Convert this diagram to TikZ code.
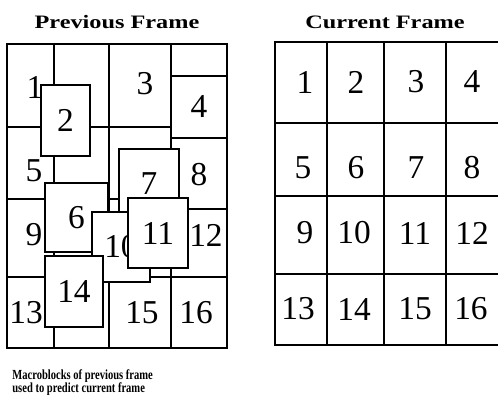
\documentclass[tikz,border=0pt]{standalone}
\usepackage{fontspec}
\setmainfont{Liberation Serif}
\usepackage{graphicx}

\begin{document}
\begin{tikzpicture}[x=0.02cm,y=-0.02cm,gline/.style={draw=black,line width=0.75pt},mb/.style={draw=black,fill=white,line width=1.2pt,inner sep=0pt,font=\fontsize{19pt}{22pt}\selectfont},num/.style={inner sep=0pt,font=\fontsize{19pt}{22pt}\selectfont},head/.style={inner sep=0pt,font=\fontsize{10.8pt}{12pt}\selectfont\bfseries},capt/.style={anchor=base west,inner sep=0pt,font=\fontsize{7.9pt}{7.4pt}\selectfont\bfseries}]
\useasboundingbox (0,0) rectangle (498,403);
% titles
\node[head] (prevtitle) at (117,22) {\scalebox{1.28}[1]{Previous Frame}};
\node[head] (curtitle) at (385,22) {\scalebox{1.28}[1]{Current Frame}};
% previous frame: grid
\draw[gline] (7,44) rectangle (227,348);
\draw[gline] (54,44) -- (54,348);
\draw[gline] (109,44) -- (109,348);
\draw[gline] (171,44) -- (171,348);
\draw[gline] (7,127) -- (227,127);
\draw[gline] (7,199) -- (179,199);
\draw[gline] (179,209) -- (227,209);
\draw[gline] (7,277) -- (227,277);
\node[num] (p1) at (35,87) {1};
\node[num] (p3) at (145,84) {3};
\node[num] (p5) at (34,171) {5};
\node[num] (p8) at (199,175) {8};
\node[num] (p9) at (34,235) {9};
\node[num] (p12) at (206,235) {12};
\node[num] (p13) at (26,313) {13};
\node[num] (p15) at (142,313) {15};
\node[num] (p16) at (196,313) {16};
% previous frame: moved macroblocks
\node[mb,minimum width=0.98cm,minimum height=1.42cm] (b2) at (65.5,120.5) {2};
\node[mb,minimum width=1.12cm,minimum height=1.24cm] (b4) at (199,107) {4};
\node[mb,minimum width=1.20cm,minimum height=1.40cm] (b7) at (149,184) {7};
\node[mb,minimum width=1.26cm,minimum height=1.38cm] (b6) at (76.5,217.5) {6};
\node[mb,minimum width=1.16cm,minimum height=1.40cm] (b10) at (121,247) {10};
\node[mb,minimum width=1.20cm,minimum height=1.40cm] (b11) at (158,233) {11};
\node[mb,minimum width=1.16cm,minimum height=1.42cm] (b14) at (74,291.5) {14};
% current frame
\draw[gline] (498,42) -- (275,42) -- (275,345) -- (498,345);
\draw[gline] (327,42) -- (327,345);
\draw[gline] (384,42) -- (384,345);
\draw[gline] (446,42) -- (446,345);
\draw[gline] (275,123) -- (498,123);
\draw[gline] (275,196) -- (498,196);
\draw[gline] (275,274) -- (498,274);
\node[num] (c1) at (305,82) {1};
\node[num] (c2) at (356,82) {2};
\node[num] (c3) at (416,82) {3};
\node[num] (c4) at (472,82) {4};
\node[num] (c5) at (303,168) {5};
\node[num] (c6) at (356,168) {6};
\node[num] (c7) at (416,168) {7};
\node[num] (c8) at (472,168) {8};
\node[num] (c9) at (305,233) {9};
\node[num] (c10) at (354,233) {10};
\node[num] (c11) at (415,233) {11};
\node[num] (c12) at (472,233) {12};
\node[num] (c13) at (298,309) {13};
\node[num] (c14) at (354,309) {14};
\node[num] (c15) at (415,309) {15};
\node[num] (c16) at (471,309) {16};
% caption
\node[capt] (cap1) at (12,379.5) {\scalebox{0.76}[1]{Macroblocks of previous frame}};
\node[capt] (cap2) at (12,392.7) {\scalebox{0.76}[1]{used to predict current frame}};
\end{tikzpicture}
\end{document}
